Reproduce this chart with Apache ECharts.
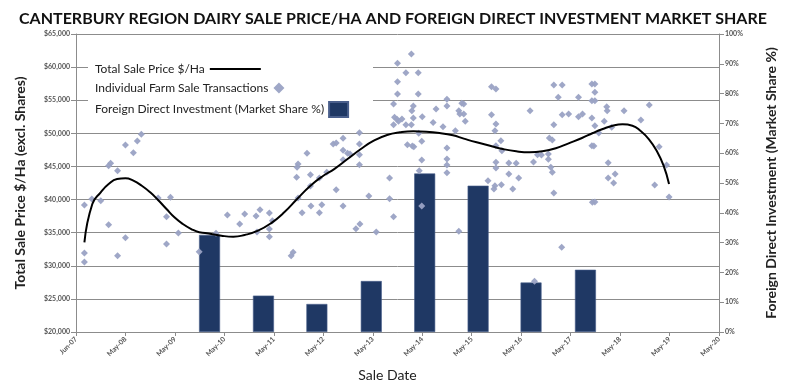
<!DOCTYPE html>
<html>
<head>
<meta charset="utf-8">
<script src="https://cdn.jsdelivr.net/npm/echarts@6/dist/echarts.min.js"></script>
<style>
html,body{margin:0;padding:0;background:#fff;}
#c{width:786px;height:390px;}
</style>
</head>
<body>
<div id="c"></div>
<script>
// x values are years elapsed since Jun-07 (axis tick every 365 days)
var xTickLabels = ['Jun-07','May-08','May-09','May-10','May-11','May-12','May-13','May-14','May-15','May-16','May-17','May-18','May-19','May-20'];
var priceTicks = [20000, 65000, 5000];
var shareTicks = [0, 100, 10];

// Total Sale Price $/Ha trend line
var trendX = [0.17,0.33,0.50,0.66,0.83,1.00,1.16,1.33,1.50,1.66,1.83,1.99,2.16,2.33,2.49,2.61,2.94,3.18,3.41,3.68,3.94,4.21,4.47,4.74,5.00,5.22,5.49,5.76,6.02,6.29,6.55,6.82,7.08,7.35,7.62,7.84,8.10,8.37,8.63,8.90,9.17,9.43,9.70,9.96,10.23,10.45,10.65,10.85,11.05,11.25,11.41,11.58,11.74,11.88,11.99];
var trendPrice = [33540,39330,41100,42350,43100,43210,42850,42090,41100,39930,38570,37320,36310,35550,35060,34950,34540,34390,34650,35300,36410,38070,40080,42090,43600,44600,46120,47630,48890,49750,50150,50310,50250,50050,49700,49200,48640,48130,47630,47280,47130,47280,47740,48490,49290,50050,50650,51150,51360,51150,50400,49140,47380,45110,42350];

// Individual Farm Sale Transactions
var saleX = [0.17,0.32,0.50,0.17,0.17,0.66,0.66,0.70,0.84,0.84,1.00,1.00,1.16,1.24,1.32,1.66,1.91,1.83,2.07,1.83,2.49,
  2.83,3.06,3.31,3.41,3.64,3.72,3.66,3.91,3.91,3.91,3.97,4.35,4.39,4.47,4.49,4.46,4.67,4.74,4.74,4.49,4.57,4.75,4.92,4.92,4.97,5.07,5.20,
  5.26,5.40,5.40,5.49,5.54,5.40,5.26,5.40,5.73,5.73,5.73,5.73,5.92,5.74,5.66,6.07,6.34,6.34,6.42,6.42,6.50,6.50,6.50,6.67,6.78,6.92,6.92,6.82,6.79,
  6.44,6.49,6.42,6.52,6.59,6.67,6.78,6.82,7.00,6.70,6.80,6.83,6.93,6.99,6.99,6.94,6.99,7.22,7.28,7.42,7.50,7.50,7.50,7.50,7.50,7.50,7.67,7.74,7.74,7.76,7.80,
  7.84,7.84,7.87,8.40,8.49,8.40,8.49,8.47,8.49,8.59,8.61,8.49,8.49,8.33,8.47,8.45,8.60,8.75,8.90,8.75,8.83,8.95,9.18,9.25,9.33,9.41,9.55,9.55,9.57,9.63,9.60,9.63,9.66,9.66,9.66,9.83,9.75,9.83,9.96,9.82,9.27,10.16,10.16,10.24,10.43,10.43,10.43,10.43,10.44,
  10.49,10.49,10.49,10.49,10.57,10.47,10.49,10.73,10.74,10.68,10.83,10.76,10.76,10.90,10.87,11.08,11.42,11.59,11.79,11.94,11.70,11.99];
var salePrice = [39177,40083,39830,31930,30570,36200,45110,45470,44360,31520,48240,34240,47070,48840,49850,40230,40340,37410,34950,33290,32130,
  34900,37670,36310,37820,37520,38470,35100,37970,35550,34390,36810,31520,32030,44870,45370,43360,46980,43750,42050,40230,38010,39030,43250,38010,39220,44110,48390,
  48540,49250,47440,46980,46880,46020,41490,39030,50100,48390,46770,45260,40540,36310,35600,35100,43250,40130,37410,54430,60570,57800,55940,59150,61980,59150,55940,54130,53420,
  52420,52120,51300,51820,52170,51300,51300,52320,52520,48280,48090,47990,50000,48790,45970,44360,39030,51620,53670,51000,55140,54130,47780,46120,45220,44060,50400,35200,53420,52920,54540,
  54430,52920,51820,57040,56690,52820,51410,50400,48130,48890,47380,45620,44760,42850,42090,41590,42240,45520,45470,43860,41590,43250,53420,45670,46770,46730,46880,46080,49290,48990,44870,44110,40990,51300,57300,57300,55440,52820,52920,32790,27660,55440,52510,52920,52320,48130,57450,54930,39590,
  57450,56190,54930,51150,50050,48090,39630,54020,53420,51820,50910,45570,43250,43860,42500,53420,52010,54280,47990,45220,42200,40390];

// Foreign Direct Investment (Market Share %)
var fdiX = [2.70,3.79,4.87,5.97,7.05,8.13,9.20,10.30];
var fdiShare = [32.6,12.2,9.4,17.1,53.2,49.1,16.6,20.9];

function zip(a,b){var r=[];for(var i=0;i<a.length;i++)r.push([a[i],b[i]]);return r;}

var chart = echarts.init(document.getElementById('c'), null, {renderer:'canvas'});
var axisGray = '#8c8c8c';
var lblStyle = {fontFamily:'Lato', fontSize:7, fontWeight:'bold', color:'#555'};
var legendText = {fontFamily:'Lato', fontSize:12, color:'#222'};

chart.setOption({
  animation:false,
  backgroundColor:'#fff',
  title:{
    text:'CANTERBURY REGION DAIRY SALE PRICE/HA AND FOREIGN DIRECT INVESTMENT MARKET SHARE',
    left:'center', top:6,
    textStyle:{fontFamily:'Lato', fontWeight:'bold', fontSize:16, color:'#111'}
  },
  grid:{left:76, right:56, top:34, bottom:58},
  graphic:[{type:'rect', shape:{x:88, y:52, width:285, height:62}, style:{fill:'#fff'}, z:1, silent:true}],
  legend:[
    {data:['Total Sale Price $/Ha'], orient:'vertical', left:90, top:58, align:'right', icon:'rect', itemWidth:51, itemHeight:2, textStyle:legendText, z:5},
    {data:['Individual Farm Sale Transactions'], orient:'vertical', left:90, top:77, align:'right', icon:'diamond', itemWidth:11, itemHeight:11, textStyle:legendText, z:5},
    {data:['Foreign Direct Investment (Market Share %)'], orient:'vertical', left:90, top:96, align:'right', icon:'rect', itemWidth:19, itemHeight:15, textStyle:legendText, z:5}
  ],
  xAxis:{
    type:'value', min:0, max:xTickLabels.length-1, interval:1,
    name:'Sale Date', nameLocation:'middle', nameGap:36,
    nameTextStyle:{fontFamily:'Lato', fontSize:14, color:'#222', padding:[0,20,0,0]},
    axisLine:{lineStyle:{color:axisGray}},
    axisTick:{show:true, length:4, lineStyle:{color:axisGray}},
    splitLine:{show:false},
    axisLabel:Object.assign({rotate:45, margin:6, formatter:function(v){return xTickLabels[Math.round(v)]||'';}}, lblStyle)
  },
  yAxis:[
    {
      type:'value', min:priceTicks[0], max:priceTicks[1], interval:priceTicks[2], position:'left',
      name:'Total Sale Price $/Ha (excl. Shares)', nameLocation:'middle', nameGap:49, nameRotate:90,
      nameTextStyle:{fontFamily:'Lato', fontSize:14, fontWeight:'bold', color:'#222'},
      axisLine:{show:true, lineStyle:{color:axisGray}},
      axisTick:{show:true, length:5, lineStyle:{color:axisGray}},
      splitLine:{show:true, lineStyle:{color:axisGray, width:1}},
      axisLabel:Object.assign({margin:6, formatter:function(v){return '$'+v.toLocaleString('en-US');}}, lblStyle)
    },
    {
      type:'value', min:shareTicks[0], max:shareTicks[1], interval:shareTicks[2], position:'right',
      name:'Foreign Direct Investment (Market Share %)', nameLocation:'middle', nameGap:45, nameRotate:90,
      nameTextStyle:{fontFamily:'Lato', fontSize:14, fontWeight:'bold', color:'#222'},
      axisLine:{show:true, lineStyle:{color:axisGray}},
      axisTick:{show:true, length:5, lineStyle:{color:axisGray}},
      splitLine:{show:false},
      axisLabel:Object.assign({margin:6, formatter:'{value}%'}, lblStyle)
    }
  ],
  series:[
    {
      name:'Foreign Direct Investment (Market Share %)', type:'bar', yAxisIndex:1,
      data:zip(fdiX, fdiShare), barWidth:21,
      itemStyle:{color:'#1f3864', borderColor:'#4a5f8c', borderWidth:0.6}, z:2
    },
    {
      name:'Individual Farm Sale Transactions', type:'scatter', yAxisIndex:0,
      data:zip(saleX, salePrice), symbol:'diamond', symbolSize:7,
      itemStyle:{color:'#9aa2c4', opacity:0.95}, z:3
    },
    {
      name:'Total Sale Price $/Ha', type:'line', yAxisIndex:0,
      data:zip(trendX, trendPrice), smooth:true, showSymbol:false, symbol:'none',
      lineStyle:{color:'#000', width:2}, itemStyle:{color:'#000'}, z:4
    }
  ]
});
</script>
</body>
</html>
